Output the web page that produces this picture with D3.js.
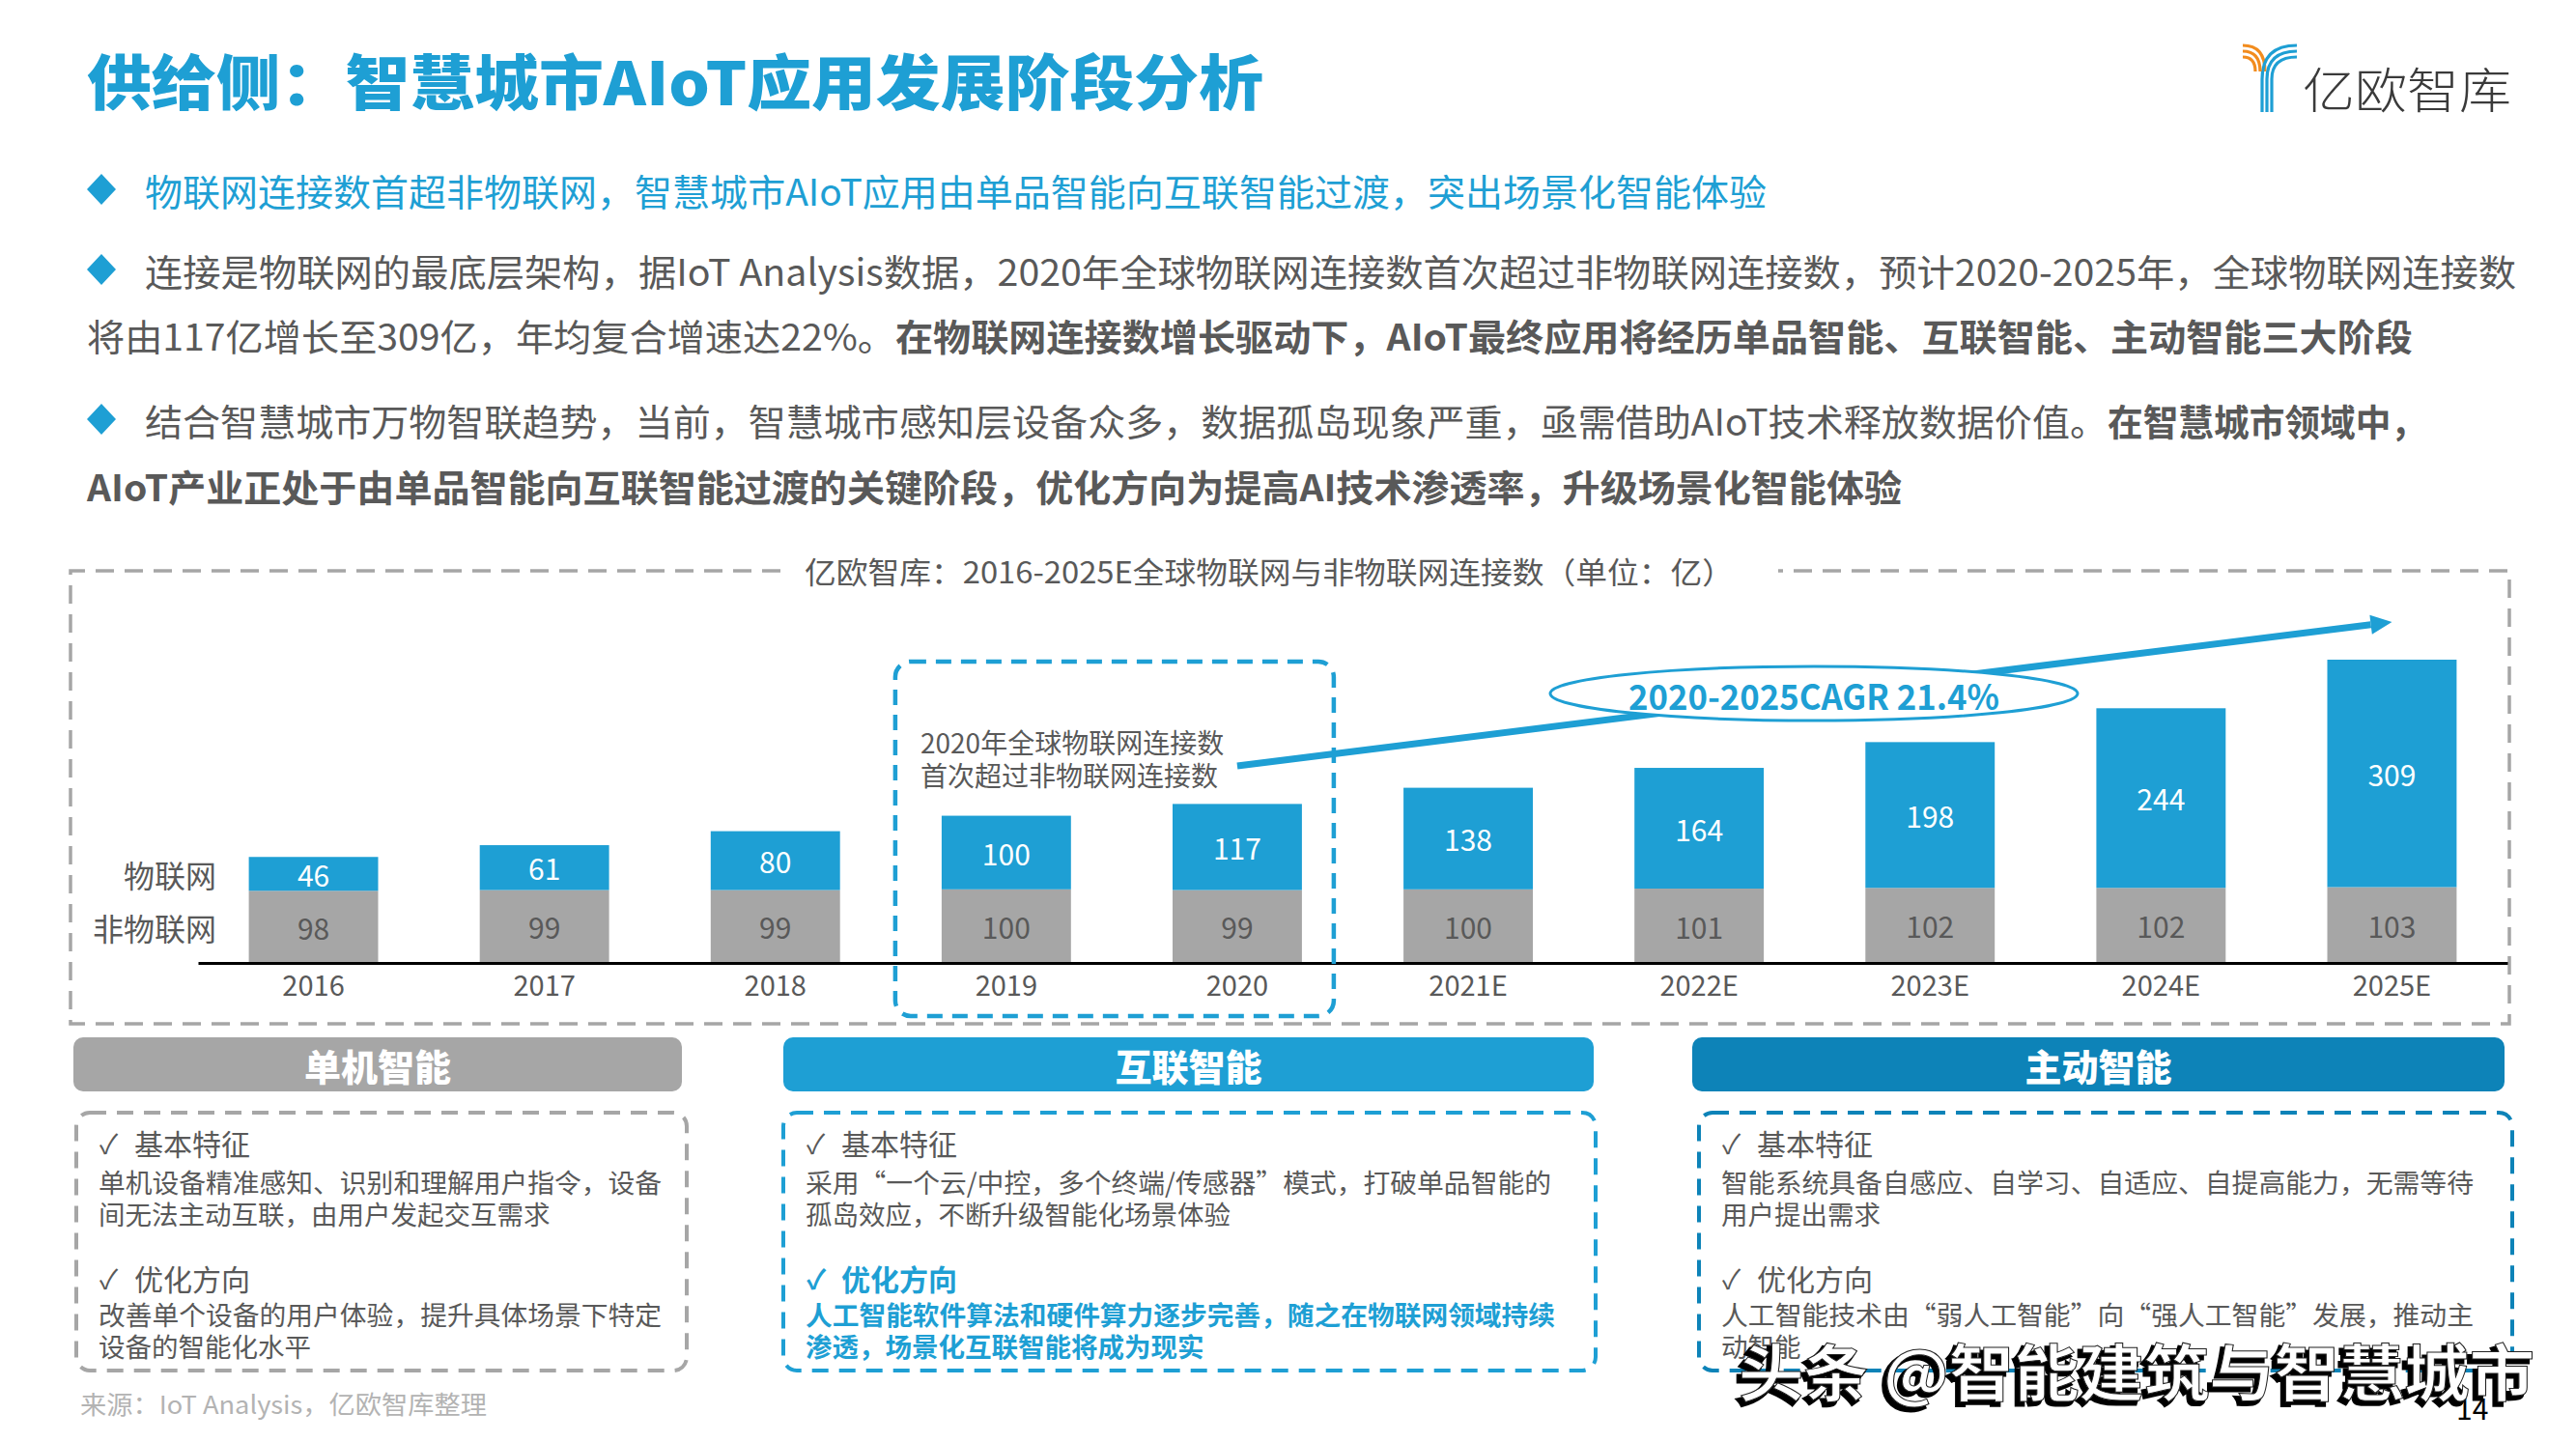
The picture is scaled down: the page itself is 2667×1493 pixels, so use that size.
<!DOCTYPE html>
<html>
<head>
<meta charset="utf-8">
<script src="https://cdn.jsdelivr.net/npm/d3@7"></script>
<style>
  html, body { margin: 0; padding: 0; background: #fff; }
  svg { display: block; font-family: "Noto Sans CJK SC", "Noto Sans", sans-serif; }
</style>
</head>
<body>
<svg id="chart" width="2667" height="1493"></svg>
<script>
// chart data
const years = ["2016", "2017", "2018", "2019", "2020", "2021E", "2022E", "2023E", "2024E", "2025E"];
const iotValues = [46, 61, 80, 100, 117, 138, 164, 198, 244, 309];
const nonIotValues = [98, 99, 99, 100, 99, 100, 101, 102, 102, 103];
const seriesNames = ["物联网", "非物联网"];
const chartTitle = "亿欧智库：2016-2025E全球物联网与非物联网连接数（单位：亿）";
const cagrLabel = "2020-2025CAGR 21.4%";
const noteLines = ["2020年全球物联网连接数", "首次超过非物联网连接数"];

// stage cards
const stageNames = ["单机智能", "互联智能", "主动智能"];
const stageFeatureLines = [
  ["单机设备精准感知、识别和理解用户指令，设备", "间无法主动互联，由用户发起交互需求"],
  ["采用“一个云/中控，多个终端/传感器”模式，打破单品智能的", "孤岛效应，不断升级智能化场景体验"],
  ["智能系统具备自感应、自学习、自适应、自提高能力，无需等待", "用户提出需求"]
];
const stageDirectionLines = [
  ["改善单个设备的用户体验，提升具体场景下特定", "设备的智能化水平"],
  ["人工智能软件算法和硬件算力逐步完善，随之在物联网领域持续", "渗透，场景化互联智能将成为现实"],
  ["人工智能技术由“弱人工智能”向“强人工智能”发展，推动主", "动智能"]
];

const blue = '#1e9fd4';
const darkBlue = '#0d83b8';
const gray = '#a6a6a6';
const textColor = '#595959';

const svg = d3.select("#chart");

function addText(g, x, y, str, size, color, opts) {
  opts = opts || {};
  let t = g.append("text")
           .attr("x", x)
           .attr("y", y)
           .attr("dominant-baseline", "central")
           .attr("font-size", size)
           .attr("fill", color)
           .attr("font-weight", opts.weight || (opts.bold ? "bold" : "normal"))
           .attr("text-anchor", opts.anchor || "start")
           .text(str);
  if (opts.width) t.attr("textLength", opts.width).attr("lengthAdjust", "spacingAndGlyphs");
  return t;
}

function renderHeader() {
  let g = svg.append("g").attr("class", "header");
  addText(g, 90, 82, "供给侧：智慧城市AIoT应用发展阶段分析", 62, blue, {weight: 900, width: 1218});

  // logo
  let logo = g.append("g").attr("fill", "none").attr("stroke-width", 3.2);
  [0, 1, 2].forEach(function(i) {
    logo.append("path")
        .attr("stroke", '#f28c1e')
        .attr("d", "M2322," + (47 + i * 6) + " Q" + (2345 - i * 5) + "," + (47 + i * 6) + " " + (2345 - i * 5) + ",74");
    logo.append("path")
        .attr("stroke", blue)
        .attr("d", "M2378," + (47 + i * 6) + " Q" + (2342 + i * 5) + "," + (47 + i * 6) + " " + (2342 + i * 5) + ",82 L" + (2342 + i * 5) + ",116");
  });
  addText(g, 2384, 90, "亿欧智库", 50, '#3a3a3a', {width: 216, weight: 300});

  // bullets
  let bullets = [196, 279, 434];
  bullets.forEach(function(cy) {
    g.append("path")
     .attr("d", "M105," + (cy - 16) + " L120," + cy + " L105," + (cy + 16) + " L90," + cy + "Z")
     .attr("fill", blue);
  });
  addText(g, 150, 196, "物联网连接数首超非物联网，智慧城市AIoT应用由单品智能向互联智能过渡，突出场景化智能体验", 38, blue, {width: 1679});
  addText(g, 150, 279, "连接是物联网的最底层架构，据IoT Analysis数据，2020年全球物联网连接数首次超过非物联网连接数，预计2020-2025年，全球物联网连接数", 38, textColor, {width: 2455});
  addText(g, 90, 346, "将由117亿增长至309亿，年均复合增速达22%。", 38, textColor, {width: 837});
  addText(g, 927, 346, "在物联网连接数增长驱动下，AIoT最终应用将经历单品智能、互联智能、主动智能三大阶段", 38, textColor, {bold: true, width: 1571});
  addText(g, 150, 434, "结合智慧城市万物智联趋势，当前，智慧城市感知层设备众多，数据孤岛现象严重，亟需借助AIoT技术释放数据价值。", 38, textColor, {width: 2032});
  addText(g, 2182, 434, "在智慧城市领域中，", 38, textColor, {bold: true, width: 330});
  addText(g, 90, 502, "AIoT产业正处于由单品智能向互联智能过渡的关键阶段，优化方向为提高AI技术渗透率，升级场景化智能体验", 38, textColor, {bold: true, width: 1879});
}

function renderChart() {
  let g = svg.append("g").attr("class", "chart");

  // outer dashed frame, open at the title
  g.append("path")
   .attr("d", "M808,591 L73,591 L73,1060 L2598,1060 L2598,591 L1841,591")
   .attr("fill", "none")
   .attr("stroke", gray)
   .attr("stroke-width", 3.5)
   .attr("stroke-dasharray", "19,11");
  addText(g, 1314, 590, chartTitle, 31, textColor, {anchor: "middle", width: 962});

  let x = d3.scaleBand()
            .domain(years)
            .range([205, 2596])
            .paddingInner(0.44)
            .paddingOuter(0.22);
  let y = d3.scaleLinear()
            .domain([0, 412])
            .range([997, 683]);
  let bw = x.bandwidth();

  let stack = d3.stack().keys(["non", "iot"])(years.map(function(d, i) {
    return {year: d, non: nonIotValues[i], iot: iotValues[i]};
  }));
  let fills = [gray, blue];
  let labelFills = [textColor, '#fff'];

  stack.forEach(function(layer, li) {
    let lg = g.append("g").attr("class", "layer-" + layer.key);
    lg.selectAll("rect")
      .data(layer)
      .enter().append("rect")
      .attr("x", function(d) { return x(d.data.year); })
      .attr("y", function(d) { return y(d[1]); })
      .attr("width", bw)
      .attr("height", function(d) { return y(d[0]) - y(d[1]); })
      .attr("fill", fills[li]);
    lg.selectAll("text")
      .data(layer)
      .enter().append("text")
      .attr("x", function(d) { return x(d.data.year) + bw / 2; })
      .attr("y", function(d) { return (y(d[0]) + y(d[1])) / 2; })
      .attr("dominant-baseline", "central")
      .attr("text-anchor", "middle")
      .attr("font-size", 30)
      .attr("fill", labelFills[li])
      .text(function(d) { return d[1] - d[0]; });
  });

  // series labels next to the first bar
  let first = stack.map(function(layer) { return layer[0]; });
  addText(g, 224, (y(first[1][0]) + y(first[1][1])) / 2, seriesNames[0], 32, textColor, {anchor: "end"});
  addText(g, 224, (y(first[0][0]) + y(first[0][1])) / 2, seriesNames[1], 32, textColor, {anchor: "end"});

  let axis = d3.axisBottom(x).tickSize(0).tickSizeOuter(0).tickPadding(13);
  let ag = g.append("g")
            .attr("transform", "translate(0," + y(0) + ")")
            .call(axis);
  ag.select(".domain").attr("stroke", "#000").attr("stroke-width", 3);
  ag.selectAll(".tick text")
    .attr("font-size", 29)
    .attr("fill", textColor)
    .attr("font-family", "\"Noto Sans CJK SC\", sans-serif");

  // highlight box around 2019-2020
  let boxL = x("2019") - 48, boxR = x("2020") + bw + 33;
  g.append("rect")
   .attr("x", boxL)
   .attr("y", 685)
   .attr("width", boxR - boxL)
   .attr("height", 367)
   .attr("rx", 16)
   .attr("fill", "none")
   .attr("stroke", blue)
   .attr("stroke-width", 4.5)
   .attr("stroke-dasharray", "16,10");
  noteLines.forEach(function(line, i) {
    addText(g, 953, 768 + i * 34, line, 28, textColor);
  });

  // growth arrow
  let x0 = x("2020") + bw / 2, y0 = 793;
  let x1 = x("2025E") + bw / 2, y1 = 644;
  let ang = Math.atan2(y1 - y0, x1 - x0);
  let head = 22, half = 10;
  let bx = x1 - head * Math.cos(ang), by = y1 - head * Math.sin(ang);
  g.append("line")
   .attr("x1", x0).attr("y1", y0)
   .attr("x2", bx).attr("y2", by)
   .attr("stroke", blue)
   .attr("stroke-width", 7);
  g.append("path")
   .attr("d", "M" + x1 + "," + y1 +
              " L" + (bx - half * Math.sin(ang)) + "," + (by + half * Math.cos(ang)) +
              " L" + (bx + half * Math.sin(ang)) + "," + (by - half * Math.cos(ang)) + "Z")
   .attr("fill", blue);

  g.append("ellipse")
   .attr("cx", 1878)
   .attr("cy", 718)
   .attr("rx", 273)
   .attr("ry", 28)
   .attr("fill", "#fff")
   .attr("stroke", blue)
   .attr("stroke-width", 3);
  addText(g, 1878, 719, cagrLabel, 36, blue, {anchor: "middle", bold: true, width: 384});
}

function renderStages() {
  let g = svg.append("g").attr("class", "stages");
  let headerX = [[76, 706], [811, 1650], [1752, 2593]];
  let boxX = [[79, 711], [811, 1652], [1759, 2601]];
  let colors = [gray, blue, darkBlue];
  let firstLineWidth = [583, 772, 779];

  stageNames.forEach(function(name, i) {
    g.append("rect")
     .attr("x", headerX[i][0])
     .attr("y", 1074)
     .attr("width", headerX[i][1] - headerX[i][0])
     .attr("height", 56)
     .attr("rx", 10)
     .attr("fill", colors[i]);
    addText(g, (headerX[i][0] + headerX[i][1]) / 2, 1102, name, 38, '#fff', {anchor: "middle", weight: 900});

    g.append("rect")
     .attr("x", boxX[i][0])
     .attr("y", 1152)
     .attr("width", boxX[i][1] - boxX[i][0])
     .attr("height", 267)
     .attr("rx", 14)
     .attr("fill", "none")
     .attr("stroke", colors[i])
     .attr("stroke-width", 4)
     .attr("stroke-dasharray", "17,11");

    let tx = boxX[i][0] + 24;
    let hot = (i == 1);
    addText(g, tx, 1183, "✓", 28, textColor);
    addText(g, tx + 36, 1183, "基本特征", 30, textColor);
    stageFeatureLines[i].forEach(function(line, j) {
      addText(g, tx - 1, 1223 + j * 33, line, 27.5, textColor, j == 0 ? {width: firstLineWidth[i]} : {});
    });
    addText(g, tx, 1323, "✓", 28, hot ? blue : textColor, {bold: hot});
    addText(g, tx + 36, 1323, "优化方向", 30, hot ? blue : textColor, {bold: hot});
    stageDirectionLines[i].forEach(function(line, j) {
      let opts = {bold: hot};
      if (j == 0) opts.width = firstLineWidth[i] + (hot ? 4 : 0);
      addText(g, tx - 1, 1360 + j * 33, line, 27.5, hot ? blue : textColor, opts);
    });
  });

  addText(g, 83, 1452, "来源：IoT Analysis，亿欧智库整理", 26, '#b3b3b3', {width: 421});

  // watermark and page number
  addText(g, 2543, 1457, "14", 30, '#000');
  addText(g, 1796, 1421, "头条 @智能建筑与智慧城市", 64, '#000', {width: 824, bold: true})
    .attr("stroke", "#000")
    .attr("stroke-width", 3);
  addText(g, 1800, 1417, "头条 @智能建筑与智慧城市", 64, '#fff', {width: 824, bold: true})
    .attr("stroke", "#222")
    .attr("stroke-width", 1);
}

renderHeader();
renderChart();
renderStages();
</script>
</body>
</html>
